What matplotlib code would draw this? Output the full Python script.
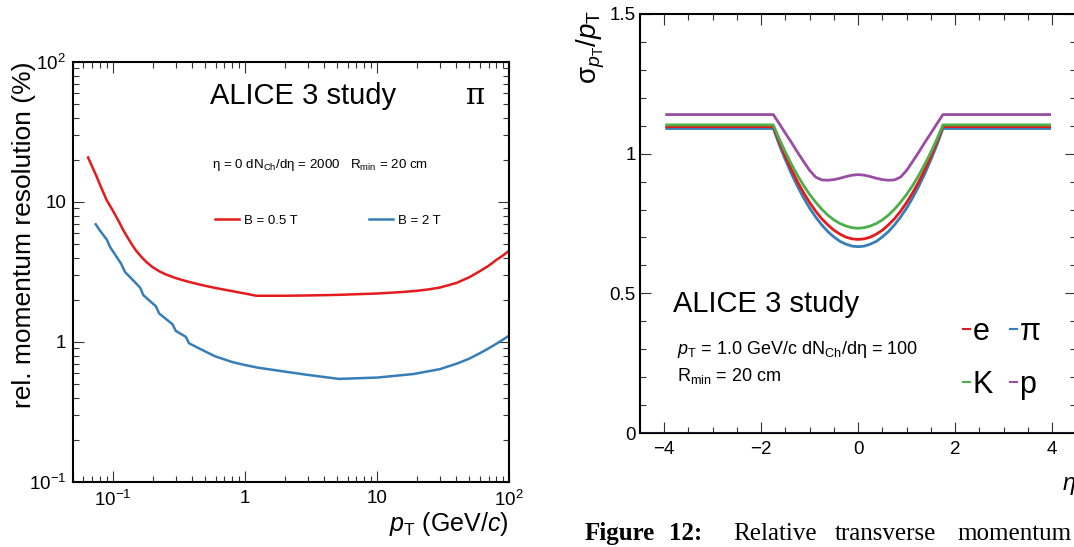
import matplotlib
matplotlib.use("Agg")
import matplotlib.pyplot as plt
from matplotlib.lines import Line2D
from matplotlib.ticker import FixedLocator, FixedFormatter, LogLocator, NullFormatter, MultipleLocator

plt.rcParams['font.family'] = ['Liberation Sans', 'DejaVu Sans']
plt.rcParams['mathtext.fontset'] = 'custom'
plt.rcParams['mathtext.rm'] = 'Liberation Sans'
plt.rcParams['mathtext.it'] = 'Liberation Sans:italic'
plt.rcParams['mathtext.bf'] = 'Liberation Sans:bold'

# left panel: momentum resolution vs pT (pions, eta = 0)
pt_b05 = [0.065, 0.07, 0.075, 0.08, 0.0835, 0.09, 0.10, 0.11, 0.12, 0.13, 0.14, 0.15, 0.165, 0.18, 0.2,
          0.225, 0.25, 0.3, 0.35, 0.4, 0.5, 0.6, 0.8, 1.0, 1.22, 2.0, 3.0, 5.0, 10, 15, 20, 25, 30, 40,
          50, 60, 70, 80, 90, 100]
res_b05 = [20.8, 17.8, 15.4, 13.3, 12.1, 10.3, 8.7, 7.4, 6.3, 5.55, 4.95, 4.5, 4.05, 3.72, 3.43,
           3.2, 3.05, 2.86, 2.74, 2.65, 2.52, 2.43, 2.31, 2.22, 2.14, 2.14, 2.15, 2.17, 2.22, 2.27, 2.32, 2.38, 2.45, 2.64,
           2.9, 3.2, 3.5, 3.85, 4.15, 4.48]

pt_b2 = [0.0743, 0.08, 0.0901, 0.0954, 0.1156, 0.124, 0.161, 0.1705, 0.212, 0.2244, 0.283, 0.30,
         0.357, 0.378, 0.45, 0.596, 0.8, 1.0, 1.25, 2.0, 3.0, 5.15, 10, 18.8, 30, 41, 50, 60, 70, 80, 90, 100]
res_b2 = [6.93, 6.25, 5.39, 4.77, 3.63, 3.16, 2.45, 2.16, 1.80, 1.60, 1.34, 1.20,
          1.09, 0.98, 0.90, 0.79, 0.72, 0.685, 0.656, 0.615, 0.582, 0.545, 0.557, 0.59, 0.64, 0.705, 0.76, 0.83, 0.90, 0.97, 1.04, 1.11]

# right panel: sigma_pT/pT vs eta at pT = 1 GeV/c
eta = [-3.95, -1.75, -1.625, -1.5, -1.375, -1.25, -1.125, -1.0, -0.875, -0.75, -0.625, -0.5, -0.375, -0.25, -0.125,
       0.0, 0.125, 0.25, 0.375, 0.5, 0.625, 0.75, 0.875, 1.0, 1.125, 1.25, 1.375, 1.5, 1.625, 1.75, 3.95]
sig_e = [1.097, 1.097, 1.042, 0.990, 0.943, 0.899, 0.860, 0.825, 0.794, 0.767, 0.745, 0.726, 0.712, 0.701, 0.695,
         0.693, 0.695, 0.701, 0.712, 0.726, 0.745, 0.767, 0.794, 0.825, 0.860, 0.899, 0.943, 0.990, 1.042, 1.097, 1.097]
sig_pi = [1.090, 1.090, 1.031, 0.978, 0.928, 0.883, 0.842, 0.805, 0.773, 0.745, 0.721, 0.702, 0.686, 0.676, 0.669,
          0.667, 0.669, 0.676, 0.686, 0.702, 0.721, 0.745, 0.773, 0.805, 0.842, 0.883, 0.928, 0.978, 1.031, 1.090, 1.090]
sig_k = [1.103, 1.103, 1.052, 1.005, 0.962, 0.922, 0.886, 0.854, 0.826, 0.801, 0.780, 0.763, 0.750, 0.741, 0.735,
         0.733, 0.735, 0.741, 0.750, 0.763, 0.780, 0.801, 0.826, 0.854, 0.886, 0.922, 0.962, 1.005, 1.052, 1.103, 1.103]
sig_p = [1.140, 1.140, 1.107, 1.073, 1.040, 1.005, 0.972, 0.940, 0.916, 0.906, 0.905, 0.907, 0.912, 0.918, 0.923,
         0.925, 0.923, 0.918, 0.912, 0.907, 0.905, 0.906, 0.916, 0.940, 0.972, 1.005, 1.040, 1.073, 1.107, 1.140, 1.140]

RED = '#e41a1c'
BLUE = '#377eb8'
GREEN = '#4daf4a'
PURPLE = '#984ea3'

W, H = 1074, 547
fig = plt.figure(figsize=(W / 100, H / 100), dpi=100)


def px(x, y):
    # pixel position (from top-left) -> figure fraction
    return x / W, 1 - y / H


def style_axes(ax):
    for s in ax.spines.values():
        s.set_linewidth(1.5)
    ax.tick_params(which='both', direction='in', top=True, right=True, width=0.8, color='#333333')
    ax.tick_params(which='major', length=8, labelsize=13.5)
    ax.tick_params(which='minor', length=4)


# ---------------- left panel ----------------
ax1 = fig.add_axes([73 / W, (H - 482) / H, 436 / W, 420 / H])
ax1.plot(pt_b05, res_b05, color=RED, lw=1.8)
ax1.plot(pt_b2, res_b2, color=BLUE, lw=1.8)
ax1.set_xscale('log')
ax1.set_yscale('log')
ax1.set_xlim(0.05, 100)
ax1.set_ylim(0.1, 100)
style_axes(ax1)
dec = [0.1, 1, 10, 100]
ax1.xaxis.set_major_locator(FixedLocator(dec))
ax1.xaxis.set_major_formatter(FixedFormatter([r'$10^{-1}$', '1', '10', r'$10^{2}$']))
ax1.yaxis.set_major_locator(FixedLocator(dec))
ax1.yaxis.set_major_formatter(FixedFormatter([r'$10^{-1}$', '1', '10', r'$10^{2}$']))
ax1.xaxis.set_minor_locator(LogLocator(base=10, subs=range(2, 10), numticks=20))
ax1.yaxis.set_minor_locator(LogLocator(base=10, subs=range(2, 10), numticks=20))
ax1.xaxis.set_minor_formatter(NullFormatter())
ax1.yaxis.set_minor_formatter(NullFormatter())
ax1.tick_params(axis='x', pad=6)
ax1.tick_params(axis='y', pad=5)

fig.text(*px(24, 62), 'rel. momentum resolution (%)', rotation=90, ha='center', va='top', fontsize=19)
fig.text(*px(509, 531), r'$p_{\mathrm{T}}$ (GeV/$c$)', ha='right', va='baseline', fontsize=18)
fig.text(*px(210, 104), 'ALICE 3 study', fontsize=21, va='baseline')
fig.text(*px(466, 104), 'π', fontsize=21, va='baseline', family=['DejaVu Serif'])
fig.text(*px(212, 168), r'η = 0 dN$_{\mathrm{Ch}}$/dη = 2000   R$_{\mathrm{min}}$ = 20 cm', fontsize=9.6, va='baseline')

fig.add_artist(Line2D([215 / W, 239 / W], [1 - 219 / H] * 2, color=RED, lw=1.8))
fig.text(*px(244, 224), 'B = 0.5 T', fontsize=9.5, va='baseline')
fig.add_artist(Line2D([369 / W, 393 / W], [1 - 219 / H] * 2, color=BLUE, lw=1.8))
fig.text(*px(398, 224), 'B = 2 T', fontsize=9.5, va='baseline')

# ---------------- right panel ----------------
ax2 = fig.add_axes([640 / W, (H - 433) / H, 436.25 / W, 419 / H])
ax2.axhline(0, color='#8070c0', lw=1.0, zorder=3)
ax2.plot(eta, sig_pi, color=BLUE, lw=2.0)
ax2.plot(eta, sig_e, color=RED, lw=2.0)
ax2.plot(eta, sig_k, color=GREEN, lw=2.0)
ax2.plot(eta, sig_p, color=PURPLE, lw=2.0)
ax2.set_xlim(-4.5, 4.5)
ax2.set_ylim(0, 1.5)
style_axes(ax2)
ax2.xaxis.set_major_locator(FixedLocator([-4, -2, 0, 2, 4]))
ax2.xaxis.set_major_formatter(FixedFormatter(['\u22124', '\u22122', '0', '2', '4']))
ax2.xaxis.set_minor_locator(MultipleLocator(0.5))
ax2.yaxis.set_major_locator(FixedLocator([0, 0.5, 1, 1.5]))
ax2.yaxis.set_major_formatter(FixedFormatter(['0', '0.5', '1', '1.5']))
ax2.yaxis.set_minor_locator(MultipleLocator(0.1))
ax2.tick_params(axis='x', pad=6)
ax2.tick_params(axis='y', pad=3)

fig.text(*px(591, 10), r'$\mathrm{\sigma}_{p_{\mathrm{T}}}/p_{\mathrm{T}}$', rotation=90, ha='center', va='top', fontsize=20)
fig.text(*px(1076, 490), r'$\eta$', ha='right', va='baseline', fontsize=17, family=['Liberation Serif'], style='italic')
fig.text(*px(673, 312), 'ALICE 3 study', fontsize=21, va='baseline')
fig.text(*px(677, 354), r'$p_{\mathrm{T}}$ = 1.0 GeV/c dN$_{\mathrm{Ch}}$/dη = 100', fontsize=13, va='baseline')
fig.text(*px(677, 381), r'R$_{\mathrm{min}}$ = 20 cm', fontsize=13, va='baseline')

for (x0, yb, col, lab) in [(963, 340, RED, 'e'), (1010, 340, BLUE, 'π'),
                           (963, 392.7, GREEN, 'K'), (1010, 392.7, PURPLE, 'p')]:
    fig.add_artist(Line2D([x0 / W, (x0 + 7) / W], [1 - (yb - 11) / H] * 2, color=col, lw=1.5))
    fig.text(*px(x0 + 9.5, yb), lab, fontsize=22, va='baseline')

# caption under the right panel
fig.text(*px(585, 540), 'Figure', fontsize=18, va='baseline', family=['Liberation Serif'], weight='bold')
fig.text(*px(669, 540), '12:', fontsize=18, va='baseline', family=['Liberation Serif'], weight='bold')
fig.text(*px(733, 540), 'Relative', fontsize=18, va='baseline', family=['Liberation Serif'])
fig.text(*px(835, 540), 'transverse', fontsize=18, va='baseline', family=['Liberation Serif'])
fig.text(*px(957, 540), 'momentum', fontsize=18, va='baseline', family=['Liberation Serif'])

fig.savefig('out.png', dpi=100)
